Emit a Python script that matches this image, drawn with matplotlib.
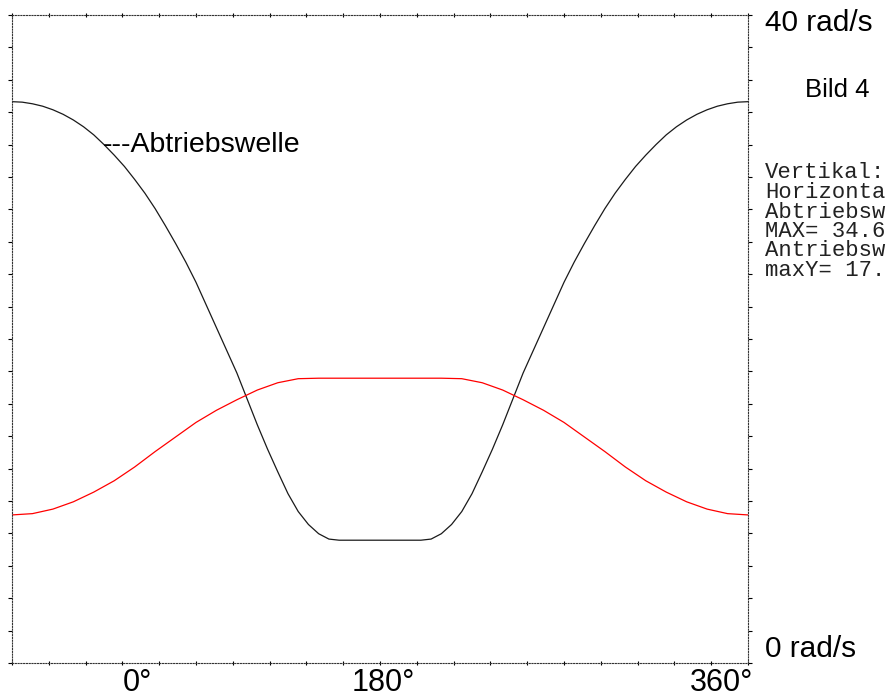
import numpy as np
import matplotlib
matplotlib.use("Agg")
import matplotlib.pyplot as plt

# Winkel der Antriebswelle (Grad)
winkel_ab = list(range(0, 361, 5))
winkel_an = list(range(0, 361, 10))

# Abtriebswelle (schwarz), rad/s
omega_ab = [34.65, 34.62, 34.52, 34.37, 34.15, 33.87, 33.52, 33.1, 32.6, 32.0,
            31.35, 30.65, 29.85, 29.0, 28.05, 27.0, 25.9, 24.75, 23.5, 22.1,
            20.7, 19.3, 17.9, 16.3, 14.7, 13.2, 11.8, 10.45, 9.35, 8.55,
            7.98, 7.65, 7.58, 7.58, 7.58, 7.58, 7.58,
            7.58, 7.58, 7.58, 7.58, 7.65, 7.98, 8.55, 9.35, 10.45,
            11.8, 13.2, 14.7, 16.3, 17.9, 19.3, 20.7, 22.1, 23.5,
            24.75, 25.9, 27.0, 28.05, 29.0, 29.85, 30.65, 31.35, 32.0,
            32.6, 33.1, 33.52, 33.87, 34.15, 34.37, 34.52, 34.62, 34.65]

# Antriebswelle (rot), rad/s
omega_an = [9.14, 9.22, 9.5, 9.95, 10.55, 11.25, 12.1, 13.05, 13.95, 14.85,
            15.6, 16.25, 16.85, 17.3, 17.55, 17.58, 17.58, 17.58, 17.58,
            17.58, 17.58, 17.58, 17.55, 17.3, 16.85, 16.25, 15.6, 14.85,
            13.95, 13.05, 12.1, 11.25, 10.55, 9.95, 9.5, 9.22, 9.14]

x_labels = ['0°', '180°', '360°']
info_lines = ['Vertikal:', 'Horizonta', 'Abtriebsw', 'MAX= 34.6',
              'Antriebsw', 'maxY= 17.']

W, H = 888, 700
fig = plt.figure(figsize=(W / 100, H / 100), dpi=100)
ax = fig.add_axes([12 / W, 1 - 663 / H, 736 / W, 648 / H])

ax.plot(winkel_ab, omega_ab, color='#1a1a1a', lw=0.9)
ax.plot(winkel_an, omega_an, color='#ff0000', lw=0.9)

ax.set_xlim(0, 360)
ax.set_ylim(0, 40)

# Rahmen gepunktet
for sp in ax.spines.values():
    sp.set_linestyle((0, (1, 1.5)))
    sp.set_linewidth(0.8)
    sp.set_color('#333333')

ax.set_xticks(np.arange(0, 361, 18))
ax.set_yticks(np.arange(0, 41, 2))
ax.tick_params(axis='y', which='both', left=True, right=True, direction='out',
               length=3, width=0.8, labelleft=False, labelright=False)
ax.tick_params(axis='x', which='both', bottom=True, top=True, direction='inout',
               length=3, width=0.8, labelbottom=False, labeltop=False)

sans = 'Liberation Sans'
mono = 'Liberation Mono'

# Achsbeschriftung
x_pos = [137, 383, 722]
for lab, px in zip(x_labels, x_pos):
    fig.text(px / W, 1 - 683 / H, lab, ha='center', va='center',
             fontsize=22, family=sans)

fig.text(765 / W, 1 - 23 / H, '40 rad/s', ha='left', va='center',
         fontsize=21.5, family=sans)
fig.text(765 / W, 1 - 649 / H, '0 rad/s', ha='left', va='center',
         fontsize=21.5, family=sans)
fig.text(805 / W, 1 - 90 / H, 'Bild 4', ha='left', va='center',
         fontsize=18.5, family=sans)

fig.text(103 / W, 1 - 145 / H, '---Abtriebswelle', ha='left', va='center',
         fontsize=20.5, family=sans)

for i, line in enumerate(info_lines):
    fig.text(765 / W, 1 - (173 + i * 19.5) / H, line, ha='left', va='center',
             fontsize=16, family=mono, color='#222222')

fig.savefig('out.png', dpi=100)
